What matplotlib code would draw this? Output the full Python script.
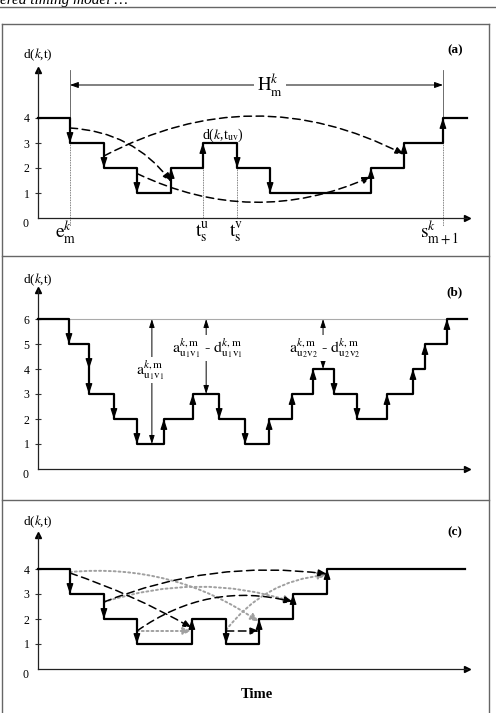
import matplotlib
matplotlib.use("Agg")
import matplotlib.pyplot as plt
from matplotlib.lines import Line2D

plt.rcParams['font.family'] = 'serif'
plt.rcParams['font.serif'] = ['Liberation Serif', 'DejaVu Serif']
plt.rcParams['mathtext.fontset'] = 'stix'

# ---- data ----
# panel (a): step profile d(k,t)
time_a = [0, 0.96, 1.98, 2.97, 4.0, 4.95, 5.98, 6.97, 10.0, 10.99, 12.16, 12.88]
level_a = [4, 3, 2, 1, 2, 3, 2, 1, 2, 3, 4, 4]
ticks_a = [1, 2, 3, 4]
move_start_a = [(0.96, 3.6), (1.98, 2.48), (2.97, 1.78)]
move_end_a = [(4.0, 1.45), (10.99, 2.54), (10.0, 1.65)]
move_bend_a = [-0.23, -0.26, 0.23]
e_m, t_u, t_v, s_m1 = 0.96, 4.95, 5.98, 12.16

# panel (b)
time_b = [0, 0.93, 1.53, 2.28, 2.97, 3.78, 4.65, 5.44, 6.22, 6.94, 7.63, 8.26,
          8.89, 9.58, 10.48, 11.26, 11.62, 12.28, 12.88]
level_b = [6, 5, 3, 2, 1, 2, 3, 2, 1, 2, 3, 4, 3, 2, 3, 4, 5, 6, 6]
ticks_b = [1, 2, 3, 4, 5, 6]
gap_time_b = [3.42, 5.05, 8.56]
gap_low_b = [1, 3, 4]
cap_b = 6

# panel (c)
time_c = [0, 0.96, 1.98, 2.97, 4.62, 5.65, 6.64, 7.66, 8.68, 12.82]
level_c = [4, 3, 2, 1, 2, 1, 2, 3, 4, 4]
ticks_c = [1, 2, 3, 4]
dash_start_c = [(0.96, 3.84), (1.98, 2.68), (2.97, 1.52), (5.65, 1.52)]
dash_end_c = [(4.62, 1.64), (8.68, 3.8), (7.66, 2.68), (6.64, 1.52)]
dash_bend_c = [-0.05, -0.13, -0.23, 0.0]
dot_start_c = [(0.96, 3.88), (1.98, 2.68), (2.97, 1.52), (5.65, 1.56)]
dot_end_c = [(6.64, 1.88), (7.66, 2.68), (4.62, 1.52), (8.68, 3.76)]
dot_bend_c = [-0.18, -0.16, 0.0, -0.22]

W, H = 496, 713
UX, UY = 33.3, 25.0

fig = plt.figure(figsize=(W / 100, H / 100), dpi=100)


def px_line(xs, ys, **kw):
    fig.add_artist(Line2D([x / W for x in xs], [1 - y / H for y in ys],
                          transform=fig.transFigure, **kw))


def make_axes(zero_px, top_px):
    ax = fig.add_axes([38 / W, 1 - zero_px / H, 429 / W, (zero_px - top_px) / H])
    ax.set_xlim(0, 429 / UX)
    ax.set_ylim(0, (zero_px - top_px) / UY)
    for s in ['top', 'right']:
        ax.spines[s].set_visible(False)
    for s in ['left', 'bottom']:
        ax.spines[s].set_linewidth(0.9)
        ax.spines[s].set_color('#222222')
    ax.set_xticks([])
    ax.tick_params(axis='y', direction='inout', length=4, width=0.8,
                   labelsize=8.5, pad=4, color='#333333')
    ax.plot(1, 0, '>', color='black', ms=4, transform=ax.get_yaxis_transform(), clip_on=False)
    ax.plot(0, 1, '^', color='black', ms=4, transform=ax.get_xaxis_transform(), clip_on=False)
    ax.text(-0.3, -0.22, '0', fontsize=8.5, ha='right', va='center')
    return ax


def draw_steps(ax, times, levels):
    ax.step(times, levels, where='post', color='black', lw=1.6, clip_on=False, zorder=3)
    for i in range(1, len(times) - 1):
        a, b = levels[i - 1], levels[i]
        if a == b:
            continue
        s = 1 if b > a else -1
        for lv in range(a + s, b + s, s):
            ax.annotate('', xy=(times[i], lv), xytext=(times[i], lv - s * 0.4),
                        arrowprops=dict(arrowstyle='-|>,head_length=0.6,head_width=0.2',
                                        color='black', lw=0.9, mutation_scale=10,
                                        shrinkA=0, shrinkB=0), zorder=4)


def draw_move(ax, start, end, rad, color, ls, lw):
    ax.annotate('', xy=end, xytext=start,
                arrowprops=dict(arrowstyle='-|>,head_length=0.5,head_width=0.2',
                                connectionstyle=f'arc3,rad={rad}', color=color,
                                linestyle=ls, lw=lw, mutation_scale=10,
                                shrinkA=0, shrinkB=0), zorder=2)


# ---- frame ----
fig.text(0.0, 1 - 4 / H, 'ered timing model …', fontsize=11, style='italic', va='baseline')
px_line([0, W], [7, 7], color='#666666', lw=1)
px_line([1.5, 1.5], [24, H], color='#666666', lw=1)
px_line([489, 489], [24, H], color='#666666', lw=1)
px_line([1.5, 489], [24, 24], color='#666666', lw=1)
px_line([1.5, 489], [256, 256], color='#666666', lw=1)
px_line([1.5, 489], [500, 500], color='#666666', lw=1)

# ---- panel (a) ----
ax = make_axes(218, 70)
ax.set_yticks(ticks_a)
for x0 in [e_m, s_m1]:
    ax.plot([x0, x0], [5.9, 4], color='#555555', lw=0.6, clip_on=False)
    ax.plot([x0, x0], [3, -0.3], color='#555555', lw=0.6, ls=(0, (1, 1)), clip_on=False)
for x0 in [t_u, t_v]:
    ax.plot([x0, x0], [2, 0], color='#555555', lw=0.6, ls=(0, (1, 1)))
draw_steps(ax, time_a, level_a)
for st, en, rd in zip(move_start_a, move_end_a, move_bend_a):
    draw_move(ax, st, en, rd, 'black', (0, (5, 3)), 1.1)
ax.annotate('', xy=(e_m, 5.32), xytext=(s_m1, 5.32),
            arrowprops=dict(arrowstyle='<|-|>,head_length=0.5,head_width=0.18', color='black',
                            lw=0.7, mutation_scale=10, shrinkA=0, shrinkB=0))
ax.text(6.97, 5.32, r'$\mathrm{H}_{\mathrm{m}}^{k}$', fontsize=13.5, ha='center', va='center',
        bbox=dict(fc='white', ec='none', pad=2))
ax.text(5.56, 3.3, r'd($k$,t$_{\mathrm{uv}}$)', fontsize=10, ha='center', va='center')
ax.text(0.84, -0.58, r'$\mathrm{e}_{\mathrm{m}}^{k}$', fontsize=14, ha='center', va='center')
ax.text(4.92, -0.6, r'$\mathrm{t}_{\mathrm{s}}^{\mathrm{u}}$', fontsize=14, ha='center', va='center')
ax.text(5.95, -0.6, r'$\mathrm{t}_{\mathrm{s}}^{\mathrm{v}}$', fontsize=14, ha='center', va='center')
ax.text(12.07, -0.6, r'$\mathrm{s}_{\mathrm{m+1}}^{k}$', fontsize=14, ha='center', va='center')
ax.text(0, 6.52, r'd($k$,t)', fontsize=9.5, ha='center', va='center')
ax.text(12.52, 6.72, '(a)', fontsize=9.5, fontweight='bold', ha='center', va='center')

# ---- panel (b) ----
ax = make_axes(469, 290)
ax.set_yticks(ticks_b)
ax.plot([0, time_b[-2]], [cap_b, cap_b], color='#aaaaaa', lw=0.8)
draw_steps(ax, time_b, level_b)
for tg, lo in zip(gap_time_b, gap_low_b):
    ax.annotate('', xy=(tg, lo), xytext=(tg, cap_b),
                arrowprops=dict(arrowstyle='<|-|>,head_length=0.5,head_width=0.16', color='black',
                                lw=0.7, mutation_scale=10, shrinkA=0, shrinkB=0), zorder=2)
lab1 = r'$\mathrm{a}^{k\mathrm{,m}}_{\mathrm{u}_1\mathrm{v}_1}$'
lab2 = r'$\mathrm{a}^{k\mathrm{,m}}_{\mathrm{u}_1\mathrm{v}_1}$ - $\mathrm{d}^{k\mathrm{,m}}_{\mathrm{u}_1\mathrm{v}_1}$'
lab3 = r'$\mathrm{a}^{k\mathrm{,m}}_{\mathrm{u}_2\mathrm{v}_2}$ - $\mathrm{d}^{k\mathrm{,m}}_{\mathrm{u}_2\mathrm{v}_2}$'
ax.text(3.36, 3.96, lab1, fontsize=11.5, ha='center', va='center',
        bbox=dict(fc='white', ec='none', pad=1), zorder=3)
ax.text(5.08, 4.84, lab2, fontsize=11.5, ha='center', va='center',
        bbox=dict(fc='white', ec='none', pad=1), zorder=3)
ax.text(8.62, 4.84, lab3, fontsize=11.5, ha='center', va='center',
        bbox=dict(fc='white', ec='none', pad=1), zorder=3)
ax.text(0, 7.56, r'd($k$,t)', fontsize=9.5, ha='center', va='center')
ax.text(12.52, 7.08, '(b)', fontsize=9.5, fontweight='bold', ha='center', va='center')

# ---- panel (c) ----
ax = make_axes(669, 535)
ax.set_yticks(ticks_c)
draw_steps(ax, time_c, level_c)
for st, en, rd in zip(dot_start_c, dot_end_c, dot_bend_c):
    draw_move(ax, st, en, rd, '#a0a0a0', (0, (1, 1.5)), 1.4)
for st, en, rd in zip(dash_start_c, dash_end_c, dash_bend_c):
    draw_move(ax, st, en, rd, 'black', (0, (5, 3)), 1.1)
ax.text(0, 5.88, r'd($k$,t)', fontsize=9.5, ha='center', va='center')
ax.text(12.52, 5.48, '(c)', fontsize=9.5, fontweight='bold', ha='center', va='center')
ax.text(6.58, -1.0, 'Time', fontsize=10.5, fontweight='bold', ha='center', va='center')

fig.savefig('out.png', dpi=100)
